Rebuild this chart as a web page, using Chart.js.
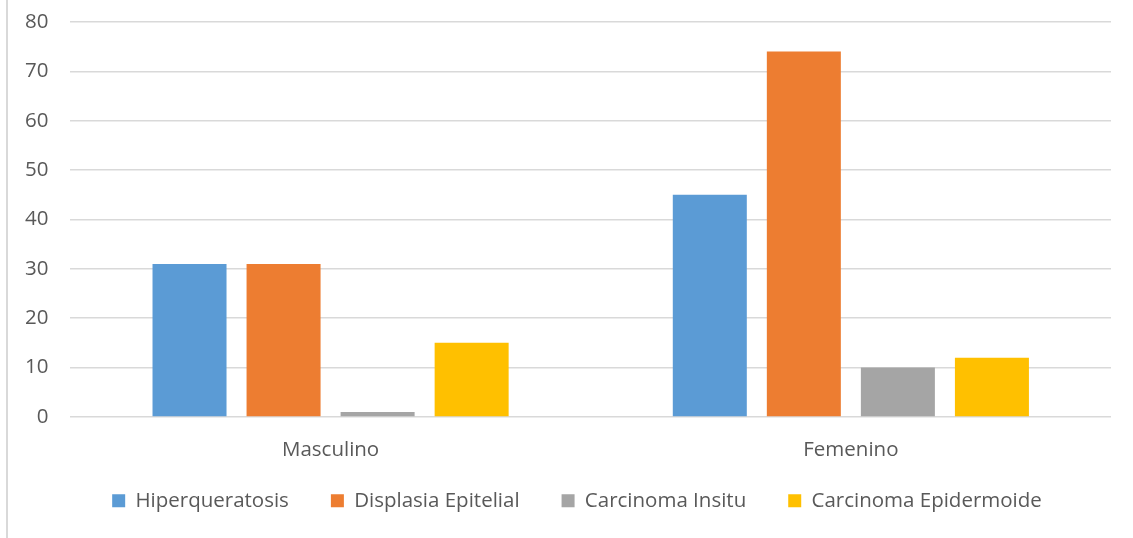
<!DOCTYPE html>
<html>
<head>
<meta charset="utf-8">
<script src="https://cdn.jsdelivr.net/npm/chart.js@4/dist/chart.umd.min.js"></script>
<style>
  html, body { margin: 0; padding: 0; background: #fff; }
  #wrap { width: 1133px; height: 538px; position: relative; }
</style>
</head>
<body>
<div id="wrap"><canvas id="grafico"></canvas></div>
<script>
const categorias = ["Masculino", "Femenino"];
const hiperqueratosis = [31, 45];
const displasia = [31, 74];
const carcinomaInsitu = [1, 10];
const carcinomaEpidermoide = [15, 12];
const ticksY = [0, 10, 20, 30, 40, 50, 60, 70, 80];

// ajustes de la leyenda y borde izquierdo del marco
const marco = {
  id: "marco",
  afterLayout(c) {
    if (c.legend) {
      c.legend.left += 40;
      c.legend.top -= 14;
    }
  },
  afterDraw(c) {
    const ctx = c.ctx;
    ctx.save();
    ctx.strokeStyle = "#d9d9d9";
    ctx.lineWidth = 2;
    ctx.beginPath();
    ctx.moveTo(7, 0);
    ctx.lineTo(7, 538);
    ctx.stroke();
    ctx.restore();
  }
};

Chart.defaults.font.family = "'Open Sans', sans-serif";
Chart.defaults.font.size = 20.5;
Chart.defaults.color = "#595959";

new Chart(document.getElementById("grafico"), {
  type: "bar",
  data: {
    labels: categorias,
    datasets: [
      { label: "Hiperqueratosis", data: hiperqueratosis, backgroundColor: "#5b9bd5" },
      { label: "Displasia Epitelial", data: displasia, backgroundColor: "#ed7d31" },
      { label: "Carcinoma Insitu", data: carcinomaInsitu, backgroundColor: "#a5a5a5" },
      { label: "Carcinoma Epidermoide", data: carcinomaEpidermoide, backgroundColor: "#ffc000" }
    ]
  },
  options: {
    responsive: true,
    maintainAspectRatio: false,
    animation: false,
    categoryPercentage: 0.723,
    barPercentage: 0.787,
    layout: { padding: { left: 3, right: 22, top: 22, bottom: 3 } },
    plugins: {
      legend: {
        position: "bottom",
        labels: { boxWidth: 13, boxHeight: 13, padding: 42 }
      },
      tooltip: { enabled: false }
    },
    scales: {
      x: {
        grid: { display: false, drawTicks: false },
        border: { display: false },
        ticks: { padding: 21 },
        afterFit(scale) { scale.height -= 21; }
      },
      y: {
        min: 0,
        max: 80,
        afterBuildTicks(axis) { axis.ticks = ticksY.map(v => ({ value: v })); },
        afterFit(scale) { scale.paddingTop = 0; scale.paddingBottom = 0; },
        grid: { color: "#d9d9d9", lineWidth: 1.5, drawTicks: false },
        border: { display: false },
        ticks: { padding: 22 }
      }
    }
  },
  plugins: [marco]
});
</script>
</body>
</html>
